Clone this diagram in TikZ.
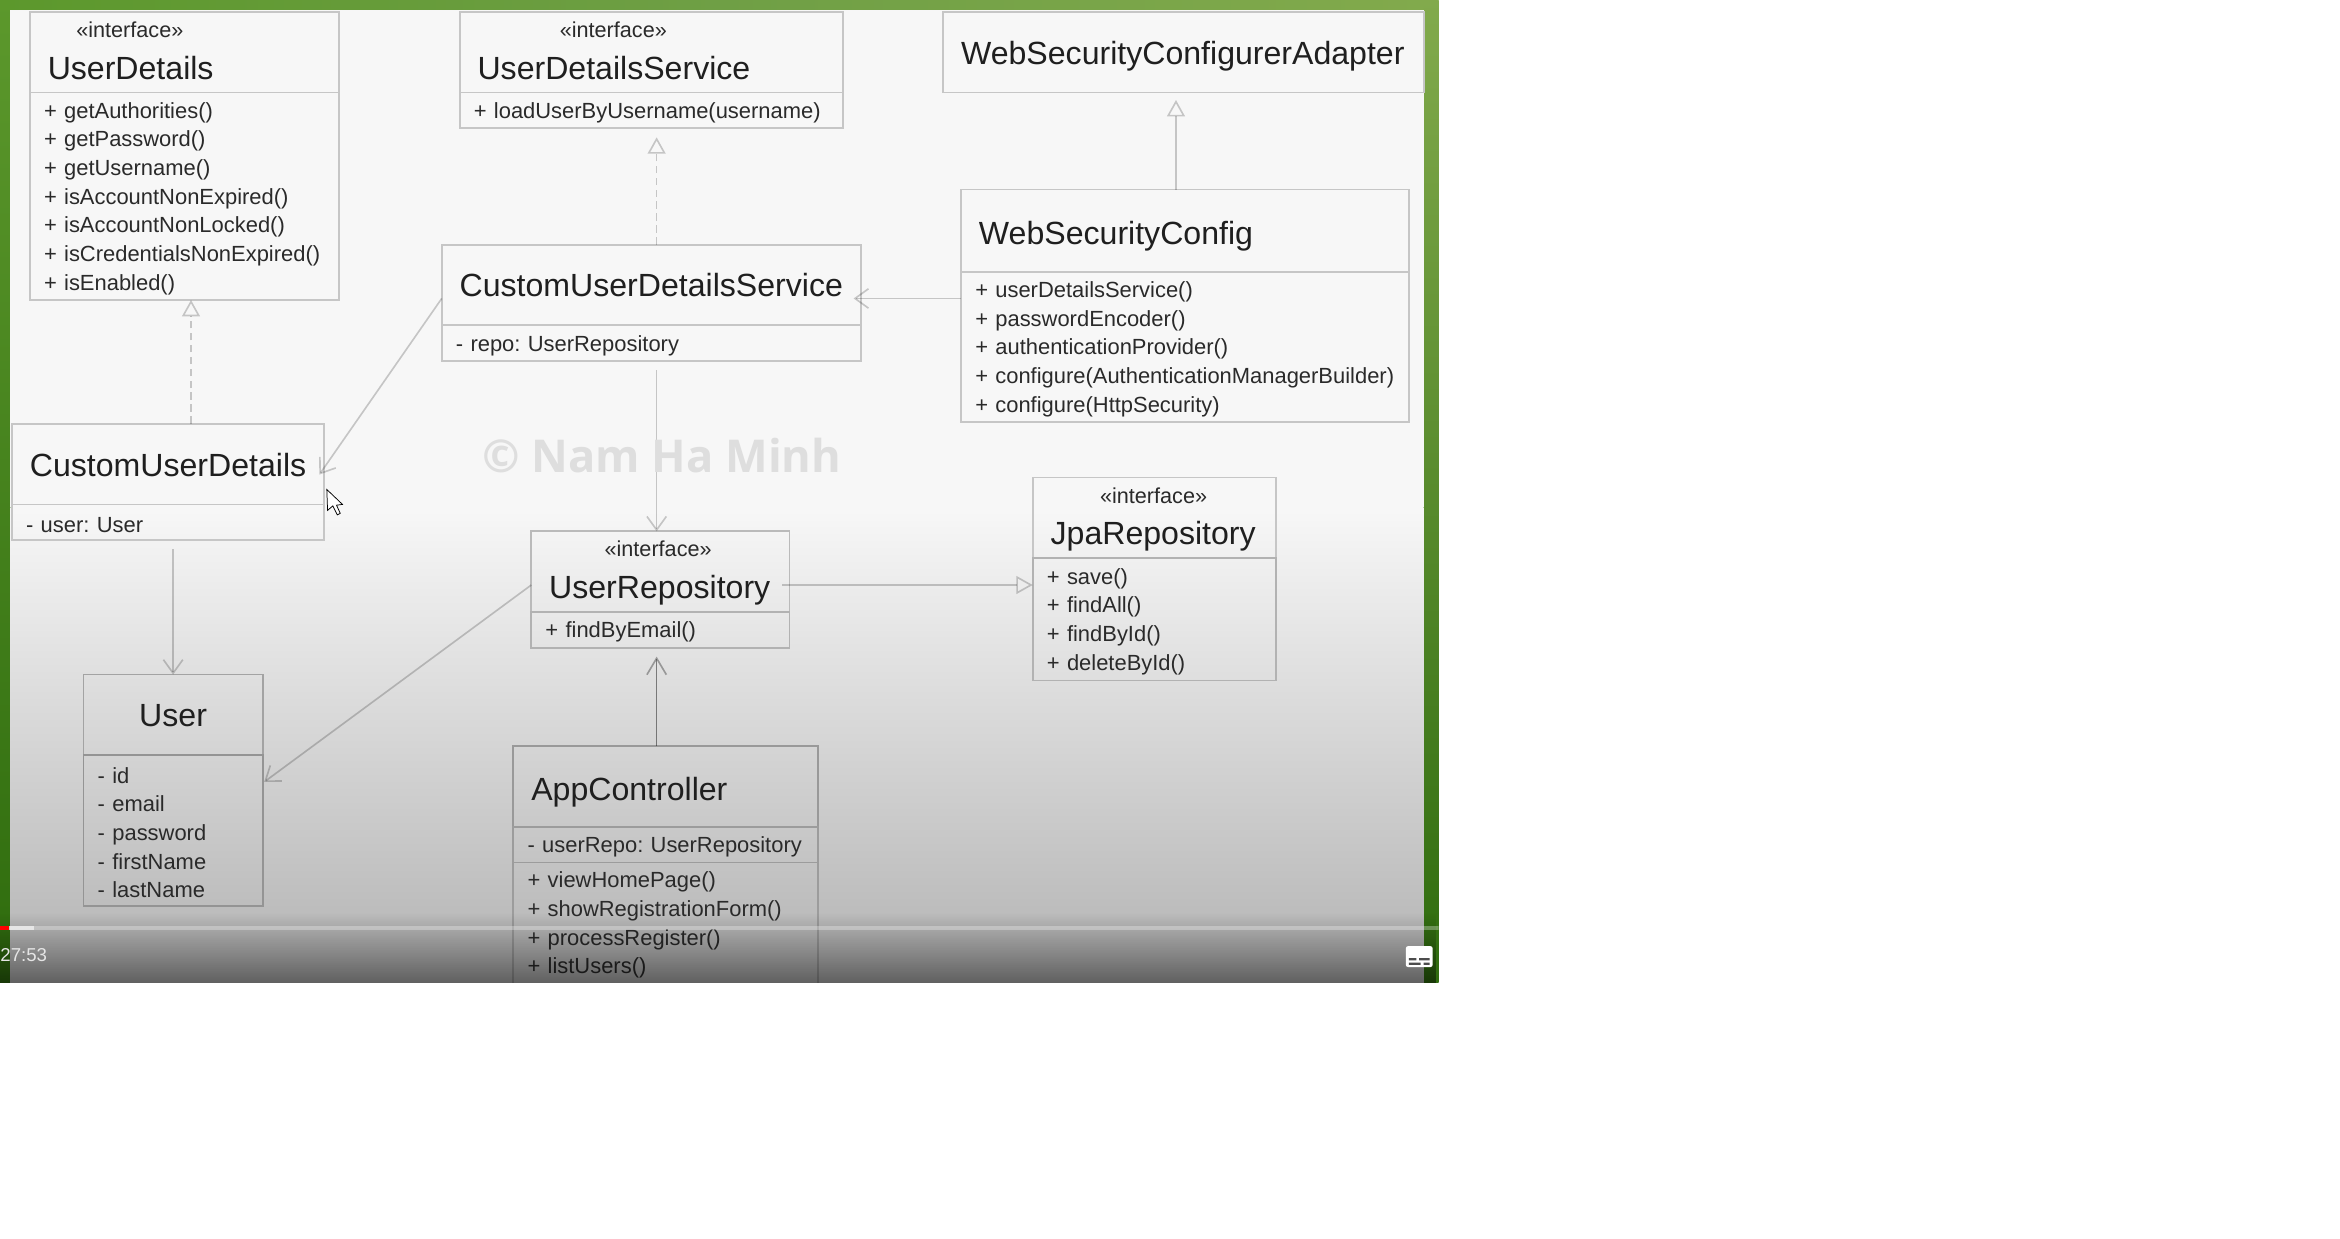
\documentclass[tikz,border=0pt]{standalone}
\usepackage{fontspec}
\setmainfont{Liberation Sans}
\newfontfamily\markfont{Open Sans}
\usepackage{tikz}
\usetikzlibrary{arrows.meta,fadings}
\hyphenpenalty=10000
\exhyphenpenalty=10000
\frenchspacing
\newcommand{\ifname}[1]{\raisebox{-10pt}[\height][\depth]{#1}}
\definecolor{inktext}{HTML}{2A2A2A}
\definecolor{boxline}{HTML}{C6C6C6}
\definecolor{lowline}{HTML}{9C9C9C}
\definecolor{leftgreen}{HTML}{5C982C}
\definecolor{rightgreen}{HTML}{82AA4C}
\definecolor{topgreen}{HTML}{6F9F45}
\definecolor{lowgreen}{HTML}{2F6C0E}

\begin{document}
\begin{tikzpicture}[x=1pt, y=-1pt, >=Straight Barb, semithick]
	\tikzstyle{head}=[draw=boxline, line width=1.2pt, outer sep=0pt, anchor=north west,
		inner xsep=12pt, inner ysep=0pt, minimum height=54pt, align=left, text=black!88,
		text height=16pt, text depth=0pt, font=\fontsize{21.5}{24}\selectfont]
	\tikzstyle{body}=[draw=boxline, line width=1.2pt, outer sep=0pt, anchor=north west,
		inner xsep=9.5pt, inner ysep=0pt, align=left, text=inktext, text height=13.5pt,
		font=\fontsize{14.7}{19.2}\selectfont]
	\tikzstyle{stereo}=[inner sep=0pt, text=inktext, font=\fontsize{14.5}{16}\selectfont]
	\tikzstyle{assoc}=[->, draw=black, draw opacity=.2, line width=1.1pt,
		arrows={-Straight Barb[length=9pt,width=13pt]}]
	\tikzstyle{uses}=[assoc, draw opacity=.45, arrows={-Straight Barb[length=11pt,width=13pt,black!75]}]
	\tikzstyle{inherit}=[draw=black, draw opacity=.2, line width=1.1pt,
		arrows={-Triangle[open,length=11pt,width=12pt]}]
	\tikzstyle{realize}=[inherit, dash pattern=on 5pt off 3pt]

	\useasboundingbox (0,0) rectangle (1568,829.6);

	\begin{scope}
		\clip (0,0) rectangle (964,658.5);

		\shade[top color=leftgreen, bottom color=lowgreen] (0,0) rectangle (7,659);
		\shade[left color=leftgreen, right color=rightgreen, middle color=topgreen] (0,0) rectangle (964,7);
		\shade[top color=rightgreen, bottom color=lowgreen] (954,0) rectangle (964,659);
		\fill[black!3] (7,7) rectangle (954,340);
		\shade[top color=black!3, bottom color=black!27] (7,340) rectangle (954,622);
		\fill[black!27] (7,622) rectangle (954,659);

		\node[stereo] (udstereo) at (87,20) {«interface»};
		\node[head, text width=183pt] (udhead) at (20,8) {\ifname{UserDetails}};
		\node[body, text width=188pt, minimum height=139pt] (udbody) at (20,62) {+ getAuthorities()\\+ getPassword()\\+ getUsername()\\+ isAccountNonExpired()\\+ isAccountNonLocked()\\+ isCredentialsNonExpired()\\+ isEnabled()};

		\node[stereo] (udsstereo) at (411,20) {«interface»};
		\node[head, text width=233pt] (udshead) at (308,8) {\ifname{UserDetailsService}};
		\node[body, text width=238pt, minimum height=24pt] (udsbody) at (308,62) {+ loadUserByUsername(username)};

		\node[head, text width=298pt] (wscahead) at (632,8) {WebSecurityConfigurerAdapter};

		\node[head, text width=276pt, minimum height=55pt, text height=19pt] (wschead) at (644,127) {WebSecurityConfig};
		\node[body, text width=281pt, minimum height=101pt] (wscbody) at (644,182) {+ userDetailsService()\\+ passwordEncoder()\\+ authenticationProvider()\\+ configure(AuthenticationManagerBuilder)\\+ configure(HttpSecurity)};

		\node[head, text width=257pt] (cudshead) at (296,164) {CustomUserDetailsService};
		\node[body, text width=262pt, minimum height=24pt] (cudsbody) at (296,218) {- repo: UserRepository};

		\node[head, text width=185pt] (cudhead) at (8,284) {CustomUserDetails};
		\node[body, text width=190pt, minimum height=24pt] (cudbody) at (8,338) {- user: User};

		\node[stereo] (repostereo) at (441,368) {«interface»};
		\node[head, text width=149pt, draw=black!27] (repohead) at (356,356) {\ifname{UserRepository}};
		\node[body, text width=154pt, minimum height=24pt, draw=black!30] (repobody) at (356,410) {+ findByEmail()};

		\node[stereo] (jpastereo) at (773,332) {«interface»};
		\node[head, text width=139pt] (jpahead) at (692,320) {\ifname{JpaRepository}};
		\node[body, text width=144pt, minimum height=82pt, draw=black!30] (jpabody) at (692,374) {+ save()\\+ findAll()\\+ findById()\\+ deleteById()};

		\node[head, text width=96pt, align=center, draw=black!36] (userhead) at (56,452) {User};
		\node[body, text width=101pt, minimum height=101pt, draw=black!42] (userbody) at (56,506) {- id\\- email\\- password\\- firstName\\- lastName};

		\node[head, text width=180pt, draw=black!40, text height=19pt] (apphead) at (344,500) {AppController};
		\node[body, text width=185pt, minimum height=24pt, draw=lowline] (appfield) at (344,554) {\mbox{- userRepo: UserRepository}};
		\node[body, text width=185pt, minimum height=81pt, draw=lowline] (appbody) at (344,578) {+ viewHomePage()\\+ showRegistrationForm()\\+ processRegister()\\+ listUsers()};

		\draw[realize] ([xshift=15.5pt]cudhead.north) -- ([xshift=4.5pt]udbody.south);
		\draw[realize] ([xshift=3.5pt]cudshead.north) -- ([xshift=3.5pt,yshift=-6pt]udsbody.south);
		\draw[inherit] ([xshift=-6pt]wschead.north) -- ([xshift=-5pt,yshift=-5pt]wscahead.south);
		\draw[assoc] ([yshift=-18pt]wscbody.north west) -- ([xshift=-5pt,yshift=18pt]cudshead.south east);
		\draw[assoc] ([yshift=-9pt]cudshead.west) -- ([xshift=-3pt,yshift=-7pt]cudhead.east);
		\draw[assoc] ([xshift=3.5pt,yshift=-6pt]cudsbody.south) -- ([xshift=-2.5pt]repohead.north);
		\draw[assoc] ([xshift=3.5pt,yshift=-6pt]cudbody.south) -- (userhead.north);
		\draw[assoc] ([yshift=-9pt]repohead.west) -- ([xshift=1pt,yshift=-18pt]userhead.south east);
		\draw[inherit] ([xshift=-5pt,yshift=-9pt]repohead.east) -- ([yshift=-18pt]jpabody.north west);
		\draw[uses] ([xshift=-6pt]apphead.north) -- ([xshift=-2.5pt,yshift=-6pt]repobody.south);

		\node[font=\markfont\bfseries\fontsize{30.3}{34}\selectfont, text=black!13, inner sep=0pt] (mark) at (443.5,305) {© Nam Ha Minh};

		\fill[white, draw=black, line width=.5pt] (219,328) -- (219.5,342) -- (223,339) -- (226,345) -- (228,344) -- (225.5,338.5) -- (229.5,338) -- cycle;

		\fill[black, fill opacity=.58, path fading=north] (0,612) rectangle (964,668);
		\fill[white, fill opacity=.3] (0,620.5) rectangle (964,623.5);
		\fill[white, fill opacity=.6] (0,620.5) rectangle (23,623.5);
		\fill[red] (0,620.5) rectangle (6,623.5);

		\node[anchor=west, inner sep=0pt, text=white!90!black, font=\fontsize{12.5}{14}\selectfont] (clock) at (0,640) {27:53};

		\fill[white, rounded corners=1.5pt] (942,634) rectangle (960,648);
		\fill[black!70] (944,642) rectangle (949,643.5) (951,642) rectangle (958,643.5) (944,645) rectangle (952,646.5) (954,645) rectangle (958,646.5);
	\end{scope}
\end{tikzpicture}
\end{document}
